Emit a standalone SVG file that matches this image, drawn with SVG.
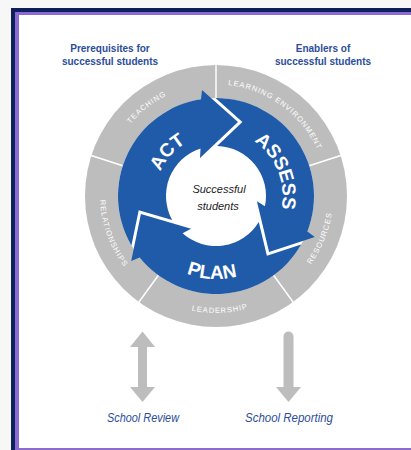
<svg xmlns="http://www.w3.org/2000/svg" xmlns:xlink="http://www.w3.org/1999/xlink" width="411" height="450" viewBox="0 0 411 450">
<style>
.title{font-family:"Liberation Sans",Arial,sans-serif;font-weight:bold;font-size:10px;fill:#2b4d9b;text-anchor:middle}
.ring{font-family:"Liberation Sans",Arial,sans-serif;font-size:7.5px;letter-spacing:1px;fill:#ffffff}
.big{font-family:"Liberation Sans",Arial,sans-serif;font-weight:bold;font-size:19px;fill:#ffffff}
.hand{font-family:"Liberation Sans",Arial,sans-serif;font-style:italic;fill:#2b4d9b;text-anchor:middle}
.center{font-family:"Liberation Sans",Arial,sans-serif;font-style:italic;font-size:11px;fill:#222222;text-anchor:middle}
.div{stroke:#ffffff;stroke-width:1.5}
.blue{fill:#1f5ba8}
.grey{fill:#bdbdbd}
</style>
<defs>
<path id="arrow" d="M-84.62,49.43 A98,98 0 0 1 -15,-96.85 L-14,-106 L22,-74 L-16,-38 L-15.5,-47.55 A50,50 0 0 0 -43.85,24.05 L-77.28,14.14 Z"/>
<path id="pAct" d="M174.85,241.7 A61.5,61.5 0 0 1 257.15,150.3"/>
<path id="pAssess" d="M190.9,133.88 A67,67 0 0 1 241.1,258.12"/>
<path id="pPlan" d="M133.11,191.66 A83,83 0 0 0 298.89,200.34"/>
<path id="pTeach" d="M127.74,264.96 A112,112 0 0 1 304.26,127.04"/>
<path id="pLearn" d="M125.39,130.17 A112,112 0 0 1 306.61,261.83"/>
<path id="pRes" d="M172.17,304.48 A117,117 0 0 0 259.83,87.52"/>
<path id="pLead" d="M99.07,200.08 A117,117 0 0 0 332.93,191.92"/>
<path id="pRel" d="M175.99,86.06 A117,117 0 0 0 256.01,305.94"/>
</defs>
<rect x="0" y="0" width="411" height="450" fill="#f7f7f8"/>
<rect x="11" y="8" width="400" height="442" fill="#0d1f5c"/>
<rect x="15" y="12" width="396" height="438" fill="#8a6bd1"/>
<rect x="19" y="15" width="392" height="433" fill="#ffffff"/>

<g id="titles">
<text class="title" x="110" y="52">Prerequisites for</text>
<text class="title" x="110" y="64.5">successful students</text>
<text class="title" x="323" y="52">Enablers of</text>
<text class="title" x="323" y="64.5">successful students</text>
</g>

<g id="ring">
<circle cx="216" cy="196" r="131" class="grey"/>
<circle cx="216" cy="196" r="98" fill="#ffffff"/>
<g transform="translate(216,196)">
<line class="div" x1="0" y1="-98" x2="0" y2="-132"/>
<line class="div" x1="0" y1="-98" x2="0" y2="-132" transform="rotate(72)"/>
<line class="div" x1="0" y1="-98" x2="0" y2="-132" transform="rotate(144)"/>
<line class="div" x1="0" y1="-98" x2="0" y2="-132" transform="rotate(216)"/>
<line class="div" x1="0" y1="-98" x2="0" y2="-132" transform="rotate(288)"/>
</g>
<text class="ring"><textPath href="#pTeach" startOffset="50%" text-anchor="middle">TEACHING</textPath></text>
<text class="ring"><textPath href="#pLearn" startOffset="50%" text-anchor="middle">LEARNING ENVIRONMENT</textPath></text>
<text class="ring"><textPath href="#pRes" startOffset="50%" text-anchor="middle">RESOURCES</textPath></text>
<text class="ring"><textPath href="#pLead" startOffset="50%" text-anchor="middle">LEADERSHIP</textPath></text>
<text class="ring"><textPath href="#pRel" startOffset="50%" text-anchor="middle">RELATIONSHIPS</textPath></text>
</g>

<g id="act">
<use href="#arrow" class="blue" transform="translate(216,196)"/>
<text class="big"><textPath href="#pAct" startOffset="50%" text-anchor="middle">ACT</textPath></text>
</g>
<g id="assess">
<use href="#arrow" class="blue" transform="translate(216,196) rotate(120)"/>
<text class="big"><textPath href="#pAssess" startOffset="50%" text-anchor="middle">ASSESS</textPath></text>
</g>
<g id="plan">
<use href="#arrow" class="blue" transform="translate(216,196) rotate(240)"/>
<text class="big"><textPath href="#pPlan" startOffset="50%" text-anchor="middle">PLAN</textPath></text>
</g>

<g id="center">
<text class="center" x="219" y="193">Successful</text>
<text class="center" x="218" y="210">students</text>
</g>

<g id="connectors">
<path class="grey" d="M142.5,331.5 L155,347 L147,347 L147,387 L155,387 L142.5,402 L130,387 L138,387 L138,347 L130,347 Z"/>
<path class="grey" d="M283.5,336.5 A5,5 0 0 1 293.5,336.5 L293.5,387 L301,387 L288.5,402 L276,387 L283.5,387 Z"/>
</g>

<g id="school-review">
<text class="hand" x="143" y="422" font-size="13" textLength="72" lengthAdjust="spacingAndGlyphs">School Review</text>
</g>
<g id="school-reporting">
<text class="hand" x="289" y="422" font-size="13" textLength="88" lengthAdjust="spacingAndGlyphs">School Reporting</text>
</g>
</svg>
